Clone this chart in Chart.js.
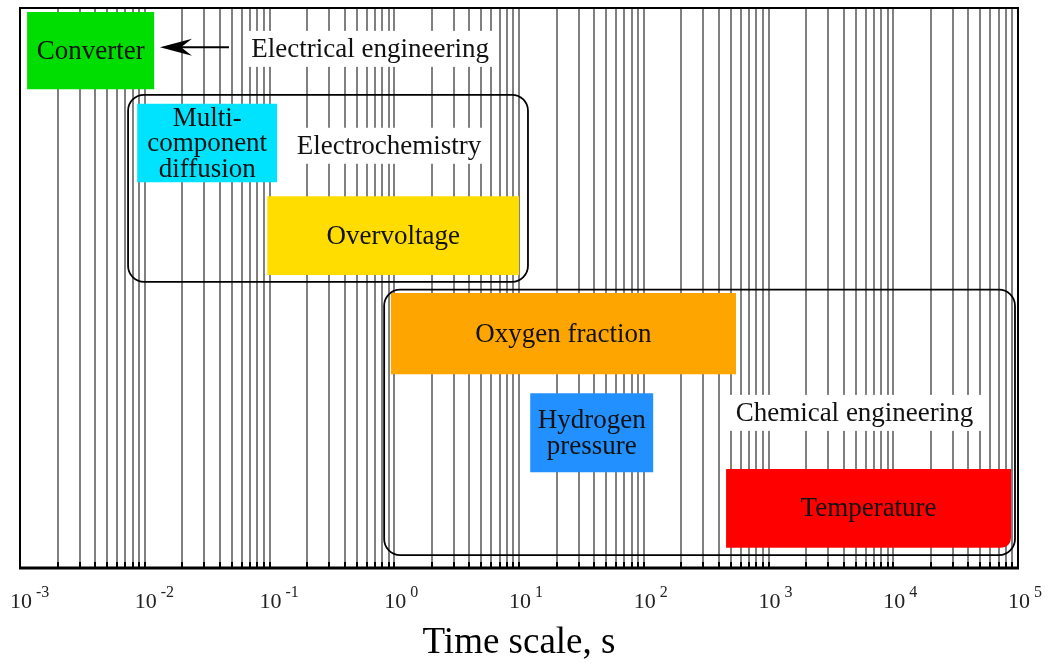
<!DOCTYPE html>
<html>
<head>
<meta charset="utf-8">
<script src="https://cdn.jsdelivr.net/npm/chart.js@4"></script>
<style>
body { margin: 0; background: #fff; }
</style>
</head>
<body>
<canvas id="timeScales" width="1048" height="665"></canvas>
<script>
// processes and the time range (s) each one acts on
var processLines = [['Converter'], ['Multi-', 'component', 'diffusion'], ['Overvoltage'], ['Oxygen fraction'], ['Hydrogen', 'pressure'], ['Temperature']];
var tStart = [1.14e-3, 8.7e-3, 0.096, 0.94, 12.3, 457];
var tEnd = [0.0119, 0.115, 10, 549, 119, 8.8e4];
// vertical band of each process (0 = top, 100 = bottom)
var rowTop = [0.7, 17.1, 33.6, 50.9, 68.8, 82.3];
var rowBottom = [14.5, 31.1, 47.7, 65.4, 82.9, 96.4];
var colours = ['#00dd00', '#00e3ff', '#ffdd00', '#ffa500', '#2291ff', '#ff0000'];

// discipline groups
var groupNames = ['Electrochemistry', 'Chemical engineering'];
var groupStart = [7.35e-3, 0.83];
var groupEnd = [11.8, 9.46e4];
var groupTop = [15.5, 50.3];
var groupBottom = [48.9, 97.7];
var groupLabelX = [0.908, 4890];
var groupLabelY = [24.6, 72.3];

// electrical engineering note with arrow to converter
var noteText = 'Electrical engineering';
var noteX = 0.64, noteY = 7.3;
var arrowFrom = 0.0473, arrowTo = 0.01325, arrowY = 7.0;

var decades = [-3, -2, -1, 0, 1, 2, 3, 4, 5];
var gridValues = [];
decades.forEach(function (e) {
  for (var m = 1; m <= 9; m++) {
    if (e == 5 && m > 1) break;
    gridValues.push(Number((m * Math.pow(10, e)).toPrecision(3)));
  }
});

var serif = "'Liberation Serif', serif";

var drawPlugin = {
  id: 'drawPlugin',
  afterDatasetsDraw: function (chart) {
    var ctx = chart.ctx, x = chart.scales.x, y = chart.scales.y, area = chart.chartArea;
    ctx.save();
    // small tick marks at bottom
    ctx.strokeStyle = '#000';
    ctx.lineWidth = 2;
    gridValues.forEach(function (v) {
      var px = Math.round(x.getPixelForValue(v));
      ctx.beginPath();
      ctx.moveTo(px, area.bottom);
      ctx.lineTo(px, area.bottom - 6);
      ctx.stroke();
    });

    // process boxes
    for (var i = 0; i < processLines.length; i++) {
      var x0 = x.getPixelForValue(tStart[i]), x1 = x.getPixelForValue(tEnd[i]);
      var y0 = y.getPixelForValue(rowTop[i]), y1 = y.getPixelForValue(rowBottom[i]);
      ctx.fillStyle = colours[i];
      ctx.beginPath();
      if (i == processLines.length - 1) ctx.roundRect(x0, y0, x1 - x0, y1 - y0, [0, 0, 10, 0]);
      else ctx.rect(x0, y0, x1 - x0, y1 - y0);
      ctx.fill();
      ctx.fillStyle = '#111';
      ctx.font = '27px ' + serif;
      ctx.textAlign = 'center';
      ctx.textBaseline = 'middle';
      var lines = processLines[i], lh = 25.5;
      var cy = (y0 + y1) / 2 - (lines.length - 1) * lh / 2;
      lines.forEach(function (t, k) {
        ctx.fillText(t, (x0 + x1) / 2, cy + k * lh + 1);
      });
    }

    // group frames
    ctx.strokeStyle = '#000';
    ctx.lineWidth = 1.8;
    for (var g = 0; g < groupNames.length; g++) {
      var gx0 = x.getPixelForValue(groupStart[g]), gx1 = x.getPixelForValue(groupEnd[g]);
      var gy0 = y.getPixelForValue(groupTop[g]), gy1 = y.getPixelForValue(groupBottom[g]);
      ctx.beginPath();
      ctx.roundRect(gx0, gy0, gx1 - gx0, gy1 - gy0, 16);
      ctx.stroke();
    }

    // labels on white
    function label(text, vx, vy) {
      var px = x.getPixelForValue(vx), py = y.getPixelForValue(vy);
      ctx.font = '27px ' + serif;
      var w = ctx.measureText(text).width;
      ctx.fillStyle = '#fff';
      ctx.fillRect(px - w / 2 - 8, py - 18, w + 16, 36);
      ctx.fillStyle = '#111';
      ctx.textAlign = 'center';
      ctx.textBaseline = 'middle';
      ctx.fillText(text, px, py + 1);
    }
    for (var g2 = 0; g2 < groupNames.length; g2++) label(groupNames[g2], groupLabelX[g2], groupLabelY[g2]);
    label(noteText, noteX, noteY);

    // arrow
    var ax0 = x.getPixelForValue(arrowFrom), ax1 = x.getPixelForValue(arrowTo), ay = y.getPixelForValue(arrowY);
    ctx.strokeStyle = '#000';
    ctx.lineWidth = 2;
    ctx.beginPath();
    ctx.moveTo(ax0, ay);
    ctx.lineTo(ax1 + 20, ay);
    ctx.stroke();
    ctx.fillStyle = '#000';
    ctx.beginPath();
    ctx.moveTo(ax1, ay);
    ctx.lineTo(ax1 + 32, ay - 8.5);
    ctx.lineTo(ax1 + 21, ay);
    ctx.lineTo(ax1 + 32, ay + 8.5);
    ctx.closePath();
    ctx.fill();

    // frame
    ctx.lineWidth = 2;
    ctx.strokeRect(area.left, area.top, area.right - area.left, area.bottom - area.top);
    ctx.lineWidth = 3;
    ctx.beginPath();
    ctx.moveTo(area.left - 1, area.bottom);
    ctx.lineTo(area.right + 1, area.bottom);
    ctx.stroke();

    // decade labels
    ctx.fillStyle = '#222';
    decades.forEach(function (e) {
      var px = x.getPixelForValue(Math.pow(10, e));
      ctx.font = '22px ' + serif;
      ctx.textAlign = 'center';
      ctx.textBaseline = 'alphabetic';
      ctx.fillText('10', px + 1, area.bottom + 40);
      ctx.font = '16px ' + serif;
      ctx.textAlign = 'left';
      ctx.fillText(String(e), px + 16, area.bottom + 29);
    });
    ctx.restore();
  }
};

var ctx = document.getElementById('timeScales').getContext('2d');
var myChart = new Chart(ctx, {
  type: 'scatter',
  data: { datasets: [] },
  options: {
    responsive: false,
    animation: false,
    layout: { padding: { left: 20, right: 30, top: 8, bottom: 0 } },
    plugins: { legend: { display: false }, tooltip: { enabled: false } },
    scales: {
      x: {
        type: 'logarithmic',
        min: 1e-3,
        max: 1e5,
        afterBuildTicks: function (scale) {
          scale.ticks = gridValues.map(function (v) { return { value: v }; });
        },
        afterFit: function (scale) { scale.height = 97; },
        ticks: { display: false, autoSkip: false },
        grid: { color: '#808080', lineWidth: 2, drawTicks: false },
        border: { display: false },
        title: {
          display: true,
          text: 'Time scale, s',
          color: '#000',
          font: { family: serif, size: 37 },
          padding: { top: 0, bottom: 0 }
        }
      },
      y: {
        display: false,
        reverse: true,
        min: 0,
        max: 100
      }
    }
  },
  plugins: [drawPlugin]
});
</script>
</body>
</html>
